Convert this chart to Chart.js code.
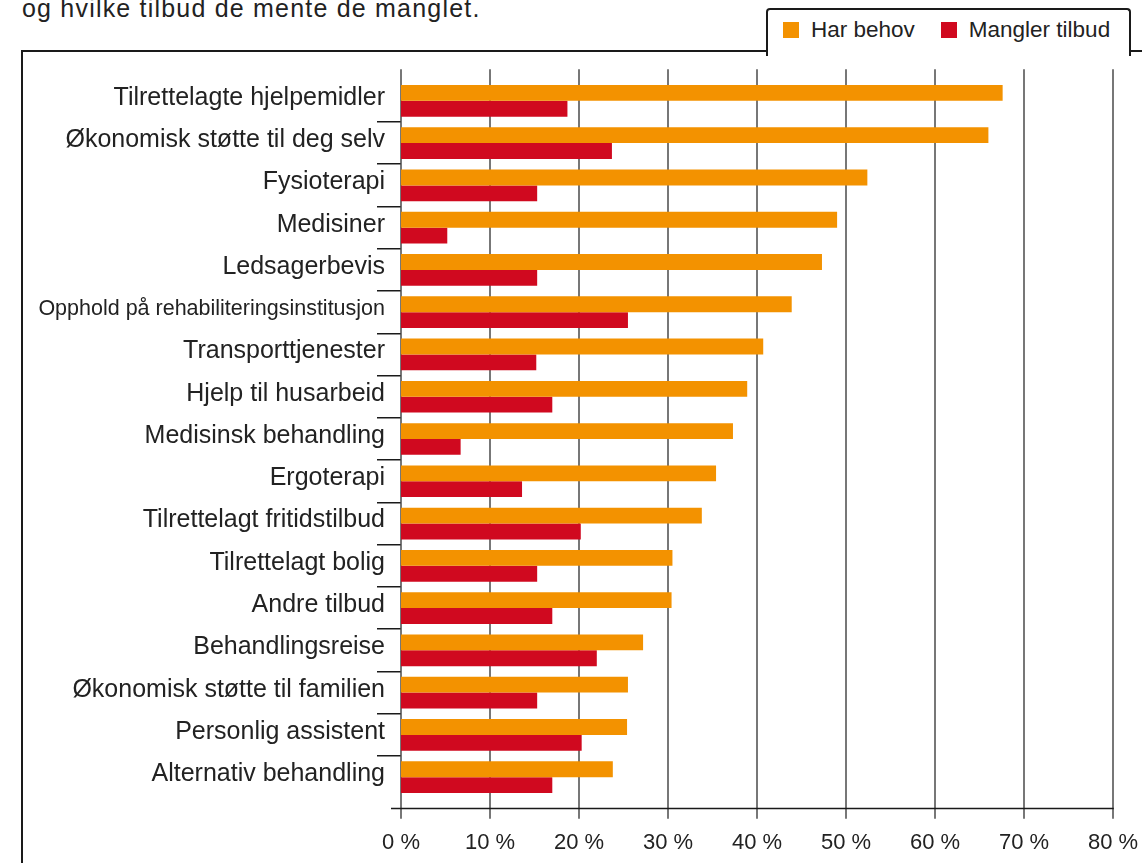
<!DOCTYPE html>
<html>
<head>
<meta charset="utf-8">
<script src="https://cdn.jsdelivr.net/npm/chart.js@4/dist/chart.umd.min.js"></script>
<style>
  html, body { margin: 0; padding: 0; background: #fff; overflow: hidden; }
  body { width: 1142px; height: 863px; position: relative; font-family: "Liberation Sans", Arial, sans-serif; color: #222; }
  #tekst { position: absolute; left: 22px; top: -4px; font-size: 25px; line-height: 25px; letter-spacing: 1.2px; white-space: nowrap; }
  #ramme { position: absolute; left: 21px; top: 50px; width: 1200px; height: 900px; border: 2.5px solid #1a1a1a; }
  #fane { position: absolute; left: 766px; top: 7.5px; width: 361px; height: 46px; border: 2.5px solid #1a1a1a; border-bottom: none; border-radius: 4px 4px 0 0; background: #fff; }
  #forklaring { position: absolute; left: 783px; top: 18px; font-size: 22.5px; line-height: 24px; white-space: nowrap; }
  #forklaring span.boks { display: inline-block; width: 16px; height: 16px; vertical-align: -1px; margin-right: 12px; }
  #forklaring span.tekst { margin-right: 26px; }
  canvas { position: absolute; left: 0; top: 0; }
</style>
</head>
<body>
<div id="tekst">og hvilke tilbud de mente de manglet.</div>
<div id="ramme"></div>
<div id="fane"></div>
<div id="forklaring"></div>
<canvas id="graf" width="1142" height="863"></canvas>
<script>
// Kategorier (ovenfra og ned)
const kategorier = [
    'Tilrettelagte hjelpemidler',
    'Økonomisk støtte til deg selv',
    'Fysioterapi',
    'Medisiner',
    'Ledsagerbevis',
    'Opphold på rehabiliteringsinstitusjon',
    'Transporttjenester',
    'Hjelp til husarbeid',
    'Medisinsk behandling',
    'Ergoterapi',
    'Tilrettelagt fritidstilbud',
    'Tilrettelagt bolig',
    'Andre tilbud',
    'Behandlingsreise',
    'Økonomisk støtte til familien',
    'Personlig assistent',
    'Alternativ behandling'
];

// Verdier i prosent
const harBehov = [67.6, 66.0, 52.4, 49.0, 47.3, 43.9, 40.7, 38.9, 37.3, 35.4, 33.8, 30.5, 30.4, 27.2, 25.5, 25.4, 23.8];
const manglerTilbud = [18.7, 23.7, 15.3, 5.2, 15.3, 25.5, 15.2, 17.0, 6.7, 13.6, 20.2, 15.3, 17.0, 22.0, 15.3, 20.3, 17.0];

const serier = ['Har behov', 'Mangler tilbud'];
const farger = ['#f39200', '#d0091f'];

// Akseverdier
const aksePunkter = [0, 10, 20, 30, 40, 50, 60, 70, 80];

// Lag forklaringen i fanen
const forklaring = document.getElementById('forklaring');
serier.forEach((navn, i) => {
    forklaring.innerHTML += `<span class="boks" style="background:${farger[i]}"></span><span class="tekst">${navn}</span>`;
});

// Rutenett som går litt utenfor plottområdet, og bunnlinjen
const rutenett = {
    id: 'rutenett',
    beforeDatasetsDraw(chart) {
        const ctx = chart.ctx;
        const x = chart.scales.x;
        const omr = chart.chartArea;
        ctx.save();
        ctx.strokeStyle = '#4a4a4a';
        ctx.lineWidth = 1.5;
        aksePunkter.forEach(v => {
            const px = x.getPixelForValue(v);
            ctx.beginPath();
            ctx.moveTo(px, omr.top - 10.5);
            ctx.lineTo(px, omr.bottom + 20.5);
            ctx.stroke();
        });
        ctx.strokeStyle = '#1a1a1a';
        ctx.beginPath();
        ctx.moveTo(x.getPixelForValue(0) - 10, omr.bottom + 10.2);
        ctx.lineTo(x.getPixelForValue(80) + 0.75, omr.bottom + 10.2);
        ctx.stroke();
        ctx.restore();
    }
};

new Chart(document.getElementById('graf').getContext('2d'), {
    type: 'bar',
    data: {
        labels: kategorier,
        datasets: [{
            label: serier[0],
            data: harBehov,
            backgroundColor: farger[0],
            barPercentage: 1,
            categoryPercentage: 0.75
        }, {
            label: serier[1],
            data: manglerTilbud,
            backgroundColor: farger[1],
            barPercentage: 1,
            categoryPercentage: 0.75
        }]
    },
    options: {
        indexAxis: 'y',
        responsive: false,
        animation: false,
        devicePixelRatio: 1,
        layout: { padding: { top: 79.7, right: 0, left: 0, bottom: 0 } },
        plugins: {
            legend: { display: false },
            tooltip: { enabled: false }
        },
        scales: {
            x: {
                min: 0,
                max: 80,
                afterFit: s => {
                    s.height = 64.7;
                    s.paddingLeft = 0;
                    s.paddingRight = 29;
                },
                afterBuildTicks: s => { s.ticks = aksePunkter.map(v => ({ value: v })); },
                grid: { display: false },
                border: { display: false },
                ticks: {
                    callback: v => v + ' %',
                    color: '#222',
                    padding: 23,
                    maxRotation: 0,
                    font: { family: '"Liberation Sans", Arial, sans-serif', size: 22 }
                }
            },
            y: {
                offset: true,
                afterFit: s => { s.width = 401; },
                grid: {
                    offset: true,
                    drawOnChartArea: false,
                    tickLength: 24,
                    lineWidth: 1.5,
                    color: c => (c.type === 'tick' && c.index > 0) ? '#1a1a1a' : 'rgba(0,0,0,0)'
                },
                border: { display: false },
                ticks: {
                    color: '#222',
                    padding: -8,
                    labelOffset: -3,
                    autoSkip: false,
                    font: c => ({
                        family: '"Liberation Sans", Arial, sans-serif',
                        size: (kategorier[c.index] || '').length > 32 ? 21.5 : 25
                    })
                }
            }
        }
    },
    plugins: [rutenett]
});
</script>
</body>
</html>
